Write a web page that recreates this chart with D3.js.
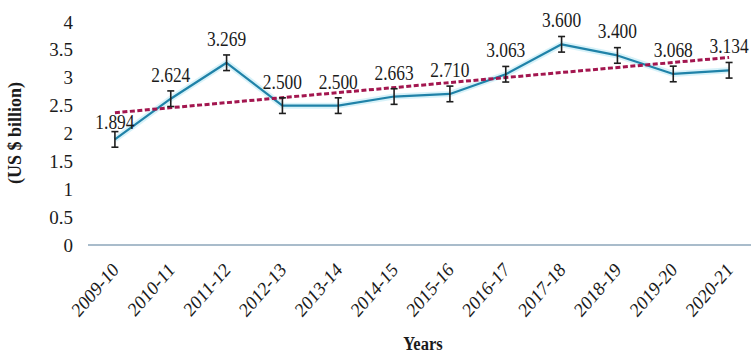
<!DOCTYPE html>
<html>
<head>
<meta charset="utf-8">
<script src="https://cdn.jsdelivr.net/npm/d3@7"></script>
<style>
  html, body { margin: 0; padding: 0; background: #fff; }
  svg { display: block; }
  text { font-family: "Liberation Serif", "Times New Roman", serif; fill: #1b1b1b; }
</style>
</head>
<body>
<svg id="chart" width="751" height="354"></svg>
<script>
// Fiscal years and export value (US $ billion)
const years = ["2009-10", "2010-11", "2011-12", "2012-13", "2013-14", "2014-15",
               "2015-16", "2016-17", "2017-18", "2018-19", "2019-20", "2020-21"];
const values = [1.894, 2.624, 3.269, 2.500, 2.500, 2.663, 2.710, 3.063, 3.600, 3.400, 3.068, 3.134];
const errors = [0.14, 0.14, 0.14, 0.14, 0.14, 0.14, 0.14, 0.14, 0.14, 0.14, 0.14, 0.14];
const yTicks = [0, 0.5, 1, 1.5, 2, 2.5, 3, 3.5, 4];

const svg = d3.select("#chart");
const serif = "'Liberation Serif', 'Times New Roman', serif";
const narrow = 0.87; // condensed horizontal glyph scale

const x = d3.scalePoint().domain(years).range([87, 757]).padding(0.5);
const y = d3.scaleLinear().domain([0, 4]).range([245, 22]);

// Baseline at zero
svg.append("line")
  .attr("x1", 88).attr("x2", 751)
  .attr("y1", y(0)).attr("y2", y(0))
  .attr("stroke", "#a9bccb").attr("stroke-width", 2);

// Y axis: labels only
const yAxis = d3.axisLeft(y).tickValues(yTicks).tickSize(0).tickPadding(0)
  .tickFormat(d3.format("~g"));
const yg = svg.append("g").attr("transform", "translate(73,0)").call(yAxis);
yg.attr("font-family", serif);
yg.select(".domain").remove();
yg.selectAll("text")
  .attr("font-size", 19).attr("fill", "#1b1b1b");

// X axis: slanted category labels
const xAxis = d3.axisBottom(x).tickSize(0).tickPadding(0);
const xg = svg.append("g").call(xAxis);
xg.attr("font-family", serif);
xg.select(".domain").remove();
xg.selectAll("text")
  .attr("font-size", 20).attr("fill", "#1b1b1b")
  .attr("text-anchor", "end")
  .attr("transform", `translate(0,266) scale(${narrow},1) rotate(-45)`)
  .attr("x", 0).attr("y", 0).attr("dy", "0.35em");

// Axis titles
svg.append("text")
  .attr("transform", "translate(21,133) rotate(-90)")
  .attr("text-anchor", "middle")
  .attr("font-size", 18).attr("font-weight", "bold")
  .text("(US $ billion)");

svg.append("text")
  .attr("transform", `translate(423,350) scale(${narrow},1)`)
  .attr("text-anchor", "middle")
  .attr("font-size", 19).attr("font-weight", "bold")
  .text("Years");

// Least-squares trend line over the series
const n = values.length;
const idx = d3.range(n);
const mx = d3.mean(idx), my = d3.mean(values);
const slope = d3.sum(idx, i => (i - mx) * (values[i] - my)) / d3.sum(idx, i => (i - mx) ** 2);
const intercept = my - slope * mx;
const trend = [0, n - 1].map(i => ({ year: years[i], v: intercept + slope * i }));

// Series line with a soft glow underneath
const line = d3.line().x(d => x(d.year)).y(d => y(d.v));
const pts = years.map((yr, i) => ({ year: yr, v: values[i], e: errors[i] }));

svg.append("path").datum(pts)
  .attr("d", line).attr("fill", "none")
  .attr("stroke", "#cdeff8").attr("stroke-width", 6)
  .attr("stroke-linejoin", "round").attr("opacity", 0.8);
svg.append("path").datum(pts)
  .attr("d", line).attr("fill", "none")
  .attr("stroke", "#1f82a8").attr("stroke-width", 2.2)
  .attr("stroke-linejoin", "round");

// Dashed trend line
svg.append("path").datum(trend)
  .attr("d", line).attr("fill", "none")
  .attr("stroke", "#a3164f").attr("stroke-width", 3)
  .attr("stroke-dasharray", "5,2.5");

// Error bars
const eb = svg.append("g").attr("stroke", "#1e1e1e").attr("stroke-width", 1.6);
pts.forEach(d => {
  const cx = x(d.year), y1 = y(d.v - d.e), y2 = y(d.v + d.e);
  eb.append("line").attr("x1", cx).attr("x2", cx).attr("y1", y1).attr("y2", y2);
  eb.append("line").attr("x1", cx - 3.5).attr("x2", cx + 3.5).attr("y1", y1).attr("y2", y1);
  eb.append("line").attr("x1", cx - 3.5).attr("x2", cx + 3.5).attr("y1", y2).attr("y2", y2);
});

// Value labels
svg.append("g").selectAll("text").data(pts).join("text")
  .attr("transform", (d, i) =>
    `translate(${x(d.year)},${y(d.v) - (i === 0 ? 10 : 17)}) scale(${narrow},1)`)
  .attr("text-anchor", "middle")
  .attr("font-size", 20)
  .text(d => d3.format(".3f")(d.v));
</script>
</body>
</html>
